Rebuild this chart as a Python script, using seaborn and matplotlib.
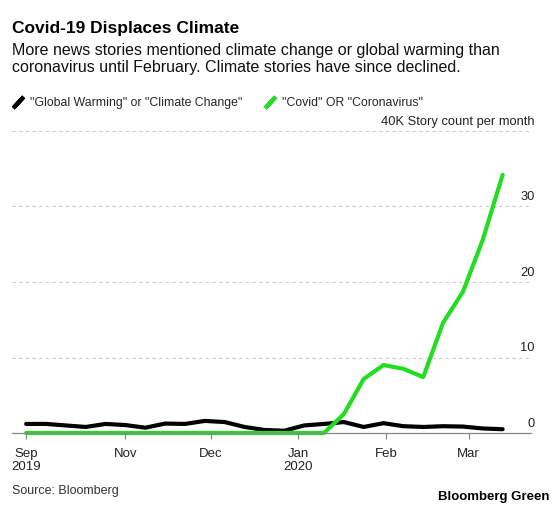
import matplotlib
matplotlib.use("Agg")
import matplotlib.pyplot as plt
import seaborn as sns
import pandas as pd
from matplotlib.lines import Line2D

# weekly story counts, thousands
weeks = [
    "2019-09-27", "2019-10-04", "2019-10-11", "2019-10-18", "2019-10-25",
    "2019-11-01", "2019-11-08", "2019-11-15", "2019-11-22", "2019-11-29",
    "2019-12-06", "2019-12-13", "2019-12-20", "2019-12-27", "2020-01-03",
    "2020-01-10", "2020-01-17", "2020-01-24", "2020-01-31", "2020-02-07",
    "2020-02-14", "2020-02-21", "2020-02-28", "2020-03-06", "2020-03-13",
]
climate_k = [1.2, 1.2, 1.0, 0.8, 1.2, 1.05, 0.7, 1.25, 1.2, 1.6, 1.45, 0.8, 0.4,
             0.3, 1.0, 1.2, 1.45, 0.8, 1.3, 0.9, 0.8, 0.9, 0.85, 0.6, 0.5]
covid_k = [0, 0, 0, 0, 0, 0, 0, 0, 0, 0, 0, 0, 0, 0, 0, 0,
           2.5, 7.15, 9.0, 8.5, 7.4, 14.6, 18.7, 25.6, 34.2]
series_names = ['"Global Warming" or "Climate Change"', '"Covid" OR "Coronavirus"']
series_colors = ["#000000", "#22dd22"]

tick_dates = ["2019-09-27", "2019-11-01", "2019-12-01", "2020-01-01", "2020-02-01", "2020-03-01"]
tick_labels = ["Sep\n2019", "Nov", "Dec", "Jan\n2020", "Feb", "Mar"]
y_ticks = [0, 10, 20, 30, 40]
y_labels = ["0", "10", "20", "30", "40K Story count per month"]

df = pd.DataFrame({
    "week": pd.to_datetime(weeks * 2),
    "stories": climate_k + covid_k,
    "series": [series_names[0]] * len(weeks) + [series_names[1]] * len(weeks),
})

sns.set_theme(style="white")
plt.rcParams["font.family"] = ["Liberation Sans", "DejaVu Sans"]

W, H = 560, 507
fig = plt.figure(figsize=(W / 100, H / 100), dpi=100)
ax = fig.add_axes([12 / W, 1 - 433 / H, (531 - 12) / W, (433 - 131) / H])

sns.lineplot(data=df, x="week", y="stories", hue="series", palette=series_colors,
             linewidth=3.0, legend=False, ax=ax, clip_on=False,
             solid_capstyle="round", solid_joinstyle="round")

ax.set_xlim(pd.Timestamp("2019-09-22"), pd.Timestamp("2020-03-23"))
ax.set_ylim(0, 40)
ax.set_yticks(y_ticks)
ax.yaxis.grid(True, color="#cccccc", linestyle=(0, (3, 3)), linewidth=0.8)
ax.set_axisbelow(True)
ax.tick_params(axis="y", left=False, labelleft=False)

ax.set_xticks(pd.to_datetime(tick_dates))
ax.set_xticklabels(tick_labels)
ax.tick_params(axis="x", bottom=True, length=4, width=0.9, color="#888888",
               labelsize=9.5, labelcolor="#222222", pad=6.5)
ax.set_xlabel("")
ax.set_ylabel("")

sns.despine(ax=ax, left=True, top=True, right=True)
ax.spines["bottom"].set_color("#888888")
ax.spines["bottom"].set_linewidth(0.9)

# value labels sit above the gridlines on the right
for val, lab in zip(y_ticks, y_labels):
    ax.annotate(lab, xy=(1, val), xycoords=ax.get_yaxis_transform(),
                xytext=(2.5, 4.5), textcoords="offset points",
                ha="right", va="baseline", fontsize=9.3, color="#222222")

fig.text(12 / W, 1 - 32.5 / H, "Covid-19 Displaces Climate", fontsize=12.5,
         fontweight="bold", color="#000000", va="baseline")
fig.text(12 / W, 1 - 55 / H,
         "More news stories mentioned climate change or global warming than",
         fontsize=11.55, color="#111111", va="baseline")
fig.text(12 / W, 1 - 72 / H,
         "coronavirus until February. Climate stories have since declined.",
         fontsize=11.55, color="#111111", va="baseline")

handles = [Line2D([0], [0], color=c, marker=(2, 2, -43), markersize=11,
                  markeredgewidth=3, linestyle="None") for c in series_colors]
fig.legend(handles, series_names, loc="center left",
           bbox_to_anchor=(12 / W, 1 - 103 / H), ncol=2, frameon=False,
           fontsize=8.8, handlelength=1.05, handletextpad=0.45,
           columnspacing=1.7, borderpad=0, borderaxespad=0)

fig.text(12 / W, 1 - 494 / H, "Source: Bloomberg", fontsize=9, color="#333333",
         va="baseline")
fig.text(550 / W, 1 - 500 / H, "Bloomberg Green", fontsize=9.5, fontweight="bold",
         color="#000000", ha="right", va="baseline")

fig.savefig("out.png", dpi=100)
